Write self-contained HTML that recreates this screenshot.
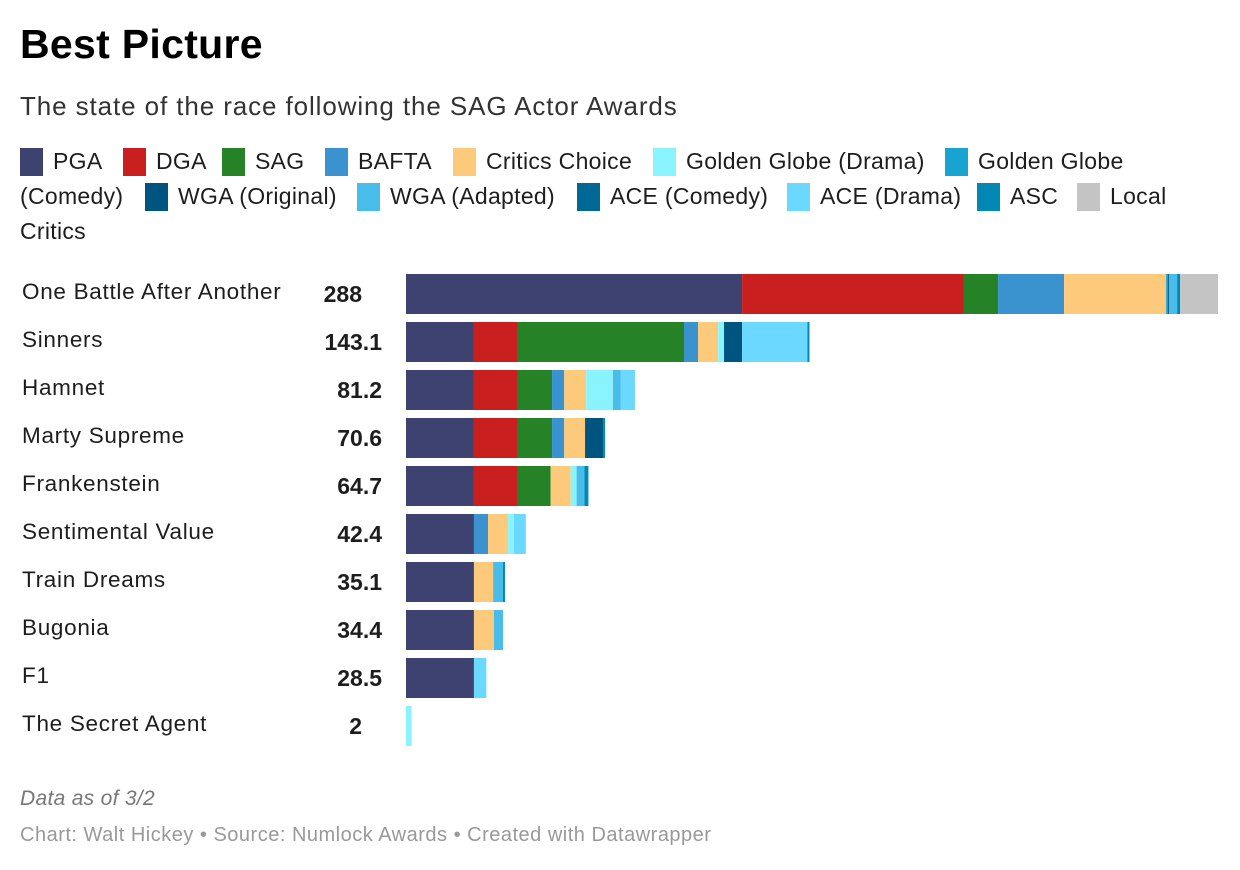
<!DOCTYPE html>
<html><head><meta charset="utf-8"><style>
body{margin:0;background:#fff;font-family:"Liberation Sans",sans-serif;color:#1d1d1d}
#wrap{position:relative;width:1240px;height:870px;overflow:hidden}
.abs{position:absolute;white-space:nowrap}
.sw{position:absolute;width:23px;height:28px}
.lt{position:absolute;font-size:23px;white-space:nowrap;letter-spacing:0.3px}
.lbl{position:absolute;left:22px;font-size:22.5px;letter-spacing:0.7px}
.val{position:absolute;right:858px;font-size:23px;font-weight:bold;text-align:right}
</style></head><body><div id="wrap">
<div class="abs" style="left:20px;top:21px;font-size:41px;font-weight:bold;color:#000;letter-spacing:0.3px">Best Picture</div>
<div class="abs" style="left:20px;top:91px;font-size:26px;color:#333;letter-spacing:0.9px">The state of the race following the SAG Actor Awards</div>
<div id="legend"></div>
<svg id="bars" class="abs" style="left:0;top:0" width="1240" height="870"></svg>
<div id="labels"></div>
<div class="abs" style="left:20px;top:787px;font-size:21px;font-style:italic;color:#777;letter-spacing:0.3px">Data as of 3/2</div>
<div class="abs" style="left:20px;top:824px;font-size:20px;color:#999;letter-spacing:0.5px">Chart: Walt Hickey • Source: Numlock Awards • Created with Datawrapper</div>
</div>
<script>
const series=["PGA","DGA","SAG","BAFTA","Critics Choice","Golden Globe (Drama)","Golden Globe (Comedy)","WGA (Original)","WGA (Adapted)","ACE (Comedy)","ACE (Drama)","ASC","Local Critics"];
const colors=["#3d4270","#c91f1f","#268226","#3a93cf","#fdc97a","#8af4fe","#19a3d1","#005580","#48bde9","#006894","#6ad8ff","#0288b4","#c4c4c4"];
const films=["One Battle After Another","Sinners","Hamnet","Marty Supreme","Frankenstein","Sentimental Value","Train Dreams","Bugonia","F1","The Secret Agent"];
const totals=["288","143.1","81.2","70.6","64.7","42.4","35.1","34.4","28.5","2"];
// order: PGA,DGA,SAG,BAFTA,CC,GGD,GGC,WGAO,WGAA,ACEC,ACED,ASC,Local
const v0=[119.2,78.7,12.1,23.4,36.2,0,0.7,0.4,2.8,0,0,1.1,13.4];
const v1=[24.1,15.6,58.9,5.0,7.1,2.1,0,6.4,0,0,23.2,0.7,0];
const v2=[24.1,15.6,12.1,4.3,7.8,9.5,0,0,2.8,0,5.0,0,0];
const v3=[24.1,15.6,12.1,4.3,7.4,0,0,6.4,0,0,0,0.7,0];
const v4=[24.1,15.6,11.6,0,7.1,2.1,0,0,2.8,0,0,1.4,0];
const v5=[24.1,0,0,5.0,7.1,2.1,0,0,0,0,4.2,0,0];
const v6=[24.1,0,0,0,6.8,0,0,0,3.5,0,0,0.7,0];
const v7=[24.1,0,0,0,7.1,0,0,0,3.2,0,0,0,0];
const v8=[24.1,0,0,0,0,0,0,0,0,0,4.4,0,0];
const v9=[0,0,0,0,0,2,0,0,0,0,0,0,0];
const rows=[v0,v1,v2,v3,v4,v5,v6,v7,v8,v9];
const X0=406,XMAX=288,W=812;
const x=v=>X0+v/XMAX*W;
const y=i=>274+i*48;
const svg=document.getElementById('bars');
const NS="http://www.w3.org/2000/svg";
rows.forEach((r,i)=>{
  let acc=0;
  r.forEach((v,k)=>{
    if(v<=0)return;
    const rc=document.createElementNS(NS,'rect');
    rc.setAttribute('x',x(acc));rc.setAttribute('y',y(i));
    rc.setAttribute('width',x(acc+v)-x(acc));rc.setAttribute('height',40);
    rc.setAttribute('fill',colors[k]);
    
    
    svg.appendChild(rc);acc+=v;
  });
});
const lab=document.getElementById('labels');
films.forEach((f,i)=>{
  const d=document.createElement('div');d.className='lbl';d.style.top=(y(i)+5)+'px';d.textContent=f;
  
  
  lab.appendChild(d);
  const t=document.createElement('div');t.className='val';t.style.top=(y(i)+7)+'px';t.textContent=totals[i];
  if(i==0||i==9)t.style.right='878px';
  
  
  lab.appendChild(t);
});
const lpos=[[0,20],[0,123],[0,222],[0,325],[0,453],[0,653],[0,945],[1,145],[1,357],[1,577],[1,787],[1,977],[1,1077]];
const lg=document.getElementById('legend');
series.forEach((s,k)=>{
  const [ln,sx]=lpos[k];const ty=148+ln*35;
  const sw=document.createElement('div');sw.className='sw';sw.style.left=sx+'px';sw.style.top=ty+'px';sw.style.background=colors[k];
  
  
  lg.appendChild(sw);
  let txt=s;
  if(k==6){txt='Golden Globe';}
  if(k==12){txt='Local';}
  const t=document.createElement('div');t.className='lt';t.style.left=(sx+33)+'px';t.style.top=(ty+0)+'px';t.textContent=txt;
  
  
  lg.appendChild(t);
});
[["(Comedy)",183],["Critics",218]].forEach(([s,ty])=>{
  const t=document.createElement('div');t.className='lt';t.style.left='20px';t.style.top=ty+'px';t.textContent=s;
  
  
  lg.appendChild(t);
});
</script></body></html>
